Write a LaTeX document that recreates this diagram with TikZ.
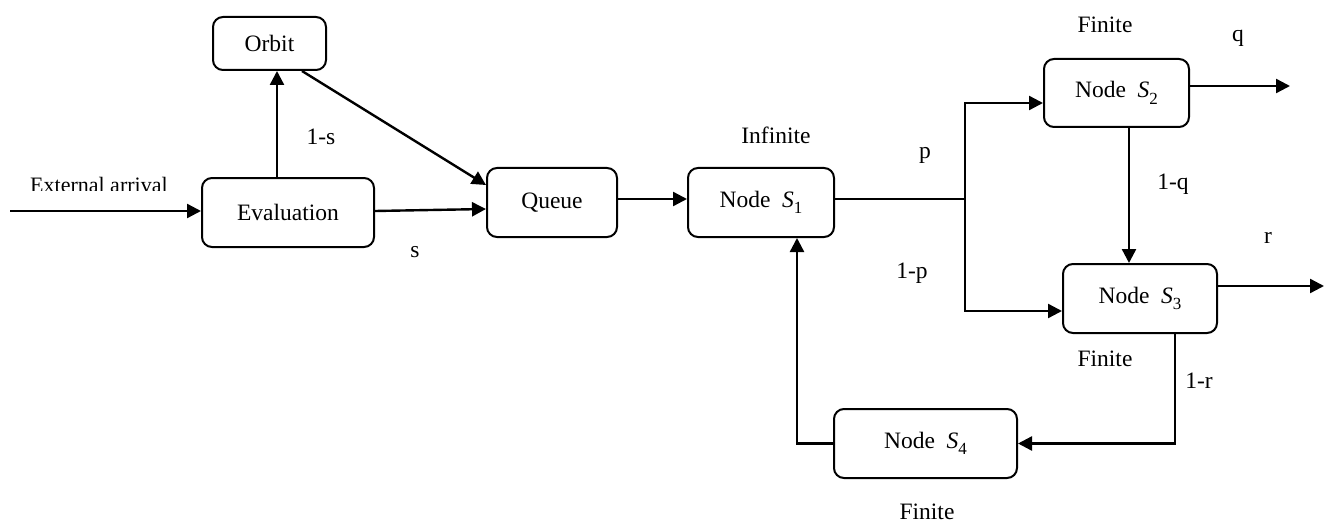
\documentclass[tikz,border=0pt]{standalone}
\usepackage{fontspec}
\setmainfont{Liberation Serif}
\usetikzlibrary{arrows.meta}
% station symbol: italic S with an upright index
\newcommand{\stn}[1]{\textit{S}\raisebox{-0.28em}{\fontsize{17}{17}\selectfont #1}}
\tikzset{
  box/.style={draw, line width=2pt, rounded corners=10pt, align=center,
              inner sep=0pt, font=\fontsize{23.5}{28}\selectfont},
  lbl/.style={inner sep=0pt, font=\fontsize{23.5}{28}\selectfont},
  arr/.style={line width=2.4pt, -{Triangle[length=14pt,width=14pt]}},
  thinline/.style={line width=1.4pt}
}
\begin{document}
\begin{tikzpicture}[x=1pt,y=-1pt]
\useasboundingbox (0,0) rectangle (1328,524);

% stations
\node[box, minimum width=113pt, minimum height=53pt] (orbit) at (269.5,43.5) {Orbit};
\node[box, minimum width=172pt, minimum height=69pt] (eval)  at (288,212.5) {Evaluation};
\node[box, minimum width=130pt, minimum height=69pt] (queue) at (552,202.5) {Queue};
\node[box, minimum width=146pt, minimum height=69pt] (s1) at (761,202.5) {Node~~\stn{1}};
\node[box, minimum width=145pt, minimum height=68pt] (s2) at (1116.5,93) {Node~~\stn{2}};
\node[box, minimum width=154pt, minimum height=69pt] (s3) at (1140,298.5) {Node~~\stn{3}};
\node[box, minimum width=183pt, minimum height=69pt] (s4) at (925.5,443.5) {Node~~\stn{4}};

% free ends and branching point
\coordinate (ext)  at (10,211);
\coordinate (br)   at (965,199);
\coordinate (qout) at (1290,86);
\coordinate (rout) at (1324,286);

% external arrivals (label cut along its baseline)
\begin{scope}
  \clip (0,150) rectangle (300,190);
  \node[lbl, anchor=base west, font=\fontsize{22}{26}\selectfont] (extlbl) at (30,193) {External arrival};
\end{scope}
\draw[arr] (ext) -- (ext -| eval.west);

% evaluation, orbit and queue
\draw[arr] ([xshift=-11pt]eval.north) -- ([xshift=7.5pt]orbit.south);
\draw[arr] ([xshift=32.5pt]orbit.south) -- ([yshift=17.5pt]queue.west);
\draw[arr] ([yshift=1.5pt]eval.east) -- ([yshift=-6.5pt]queue.west);
\draw[arr] ([yshift=3.5pt]queue.east) -- ([yshift=3.5pt]s1.west);

% routing out of S1
\draw[thinline] ([yshift=3.5pt]s1.east) -- (br);
\draw[arr] (br) |- ([yshift=-10pt]s2.west);
\draw[arr] (br) |- ([yshift=-12.5pt]s3.west);

% S2 and S3
\draw[arr] ([yshift=7pt]s2.east) -- (qout);
\draw[arr] ([xshift=12.5pt]s2.south) -- ([xshift=-11pt]s3.north);
\draw[arr] ([yshift=12.5pt]s3.east) -- (rout);

% feedback through S4
\draw[arr] ([xshift=35pt]s3.south) |- (s4.east);
\draw[arr] (s4.west) -| ([xshift=36pt]s1.south);

% probabilities and capacities
\node[lbl] (l1s) at (321,137) {1-s};
\node[lbl] (ls)  at (415,252) {s};
\node[lbl] (linf) at (776,135) {Infinite};
\node[lbl] (lp)  at (925,155) {p};
\node[lbl] (l1p) at (912,273) {1-p};
\node[lbl] (lf2) at (1105,25) {Finite};
\node[lbl] (lq)  at (1238,38) {q};
\node[lbl] (l1q) at (1173,184) {1-q};
\node[lbl] (lr)  at (1268,238) {r};
\node[lbl] (lf3) at (1105,359) {Finite};
\node[lbl] (l1r) at (1199,381) {1-r};
\node[lbl] (lf4) at (927,512) {Finite};
\end{tikzpicture}
\end{document}
